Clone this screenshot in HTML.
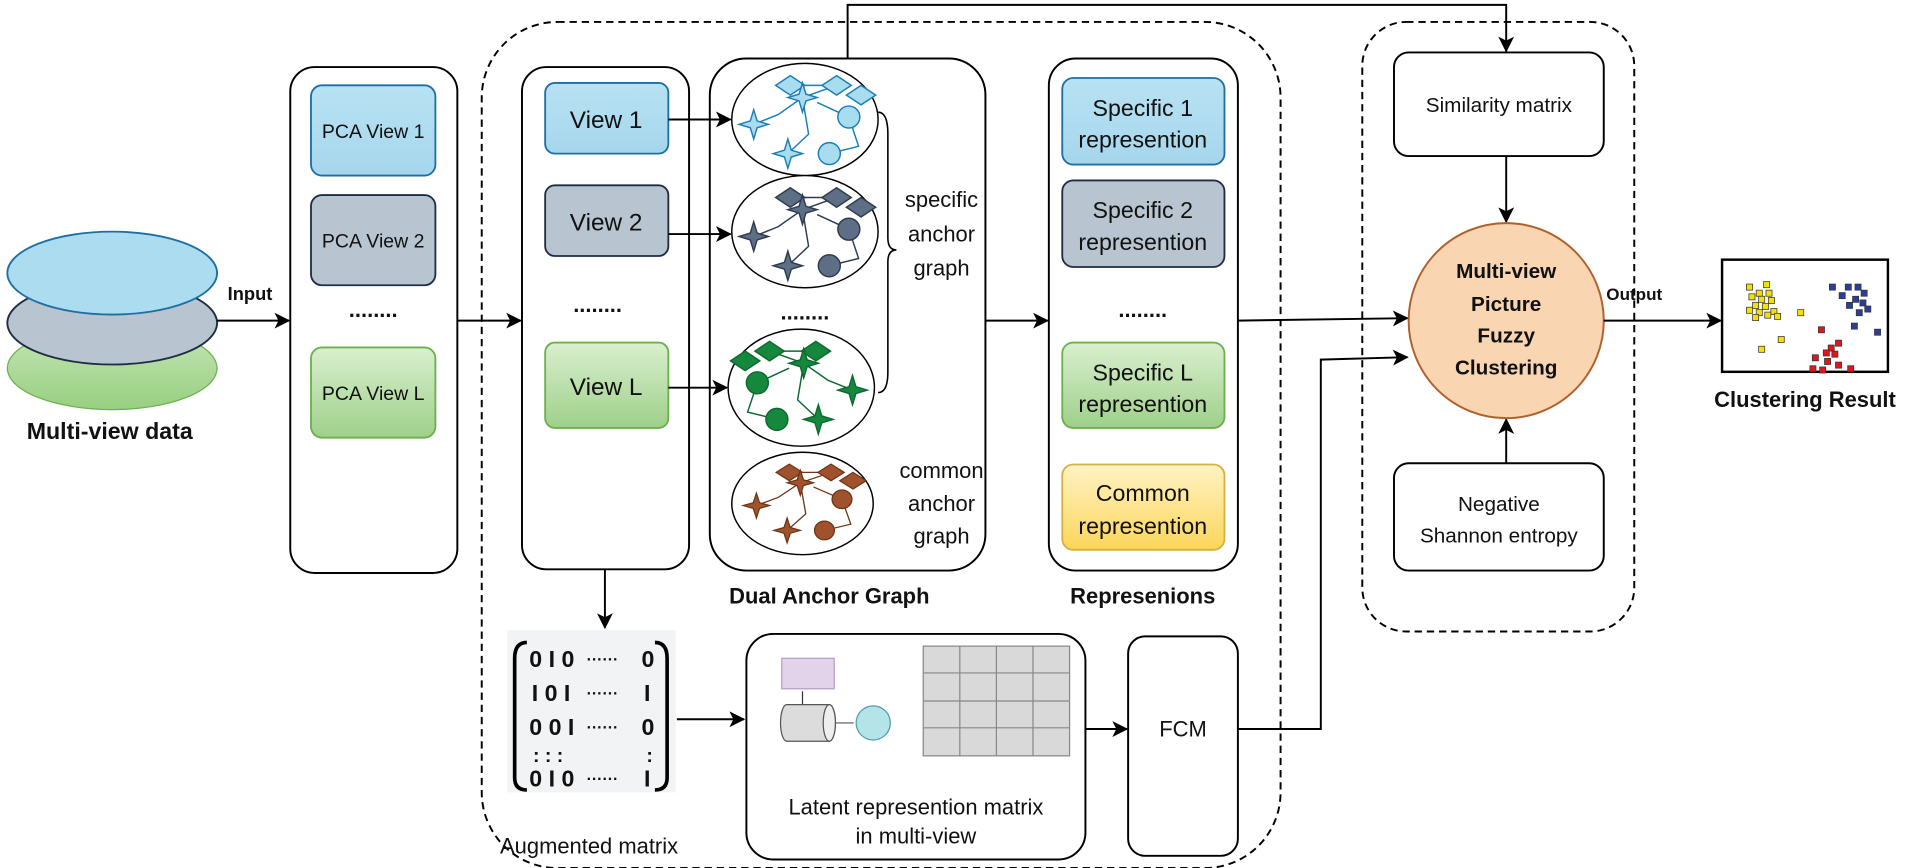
<!DOCTYPE html>
<html><head><meta charset="utf-8"><style>
html,body{margin:0;padding:0;background:#fff}
svg{display:block}
text{font-family:"Liberation Sans",Arial,sans-serif;fill:#111}
</style></head><body>
<svg width="1905" height="868" viewBox="0 0 1562 712" preserveAspectRatio="none" xmlns="http://www.w3.org/2000/svg">
<defs>
<marker id="ar" viewBox="0 0 12 12" refX="11" refY="6" markerWidth="14" markerHeight="13" orient="auto" markerUnits="userSpaceOnUse">
<path d="M0,0 L12,6 L0,12 L3,6Z" fill="#000"/></marker>
<linearGradient id="gb" x1="0" y1="0" x2="0" y2="1"><stop offset="0" stop-color="#b8e2f3"/><stop offset="1" stop-color="#a6d6ec"/></linearGradient>
<linearGradient id="gg" x1="0" y1="0" x2="0" y2="1"><stop offset="0" stop-color="#d9efcf"/><stop offset="1" stop-color="#9fd08a"/></linearGradient>
<linearGradient id="gy" x1="0" y1="0" x2="0" y2="1"><stop offset="0" stop-color="#fff3c4"/><stop offset="1" stop-color="#fbd65a"/></linearGradient>
<linearGradient id="ge" x1="0" y1="0" x2="0" y2="1"><stop offset="0" stop-color="#c6e6b8"/><stop offset="1" stop-color="#98cf80"/></linearGradient>
<path id="st" d="M0,-12 L2.8,-2.8 L12,0 L2.8,2.8 L0,12 L-2.8,2.8 L-12,0 L-2.8,-2.8Z"/>
<path id="dm" d="M0,-8 L12,0 L0,8 L-12,0Z"/>
<g id="gt">
<path fill="none" d="M-42,2 L-22,-6 L-2,-20 L26,-30 M-2,-20 L3,10 L-14,26 M10,-16 L36,-4 L44,20 L20,26 M-12,-30 L26,-30"/>
<use href="#dm" x="-12" y="-30"/><use href="#dm" x="26" y="-30"/>
<use href="#st" x="-42" y="2"/><use href="#st" x="-2" y="-20"/><use href="#st" x="-14" y="26"/>
<circle cx="36" cy="-4" r="9"/><circle cx="20" cy="26" r="9"/><use href="#dm" x="46" y="-22"/>
</g>
</defs>

<!-- multi-view data -->
<ellipse cx="92" cy="302" rx="86" ry="34" fill="url(#ge)" stroke="#6ab04c"/>
<ellipse cx="92" cy="265" rx="86" ry="34" fill="#b8c4cf" stroke="#1c2e44" stroke-width="1.5"/>
<ellipse cx="92" cy="224" rx="86" ry="34" fill="#acdcf0" stroke="#1c6fa3" stroke-width="1.5"/>
<text x="90" y="360" font-size="19" font-weight="bold" text-anchor="middle">Multi-view data</text>
<line x1="178" y1="263" x2="237" y2="263" stroke="#000" stroke-width="1.6" marker-end="url(#ar)"/>
<text x="205" y="246" font-size="15" font-weight="bold" text-anchor="middle">Input</text>

<!-- PCA box -->
<rect x="238" y="55" width="137" height="415" rx="20" fill="none" stroke="#000" stroke-width="1.6"/>
<rect x="255" y="70" width="102" height="74" rx="9" fill="url(#gb)" stroke="#1c6fa3" stroke-width="1.5"/>
<rect x="255" y="160" width="102" height="74" rx="9" fill="#b8c4cf" stroke="#1c2e44" stroke-width="1.5"/>
<rect x="255" y="285" width="102" height="74" rx="9" fill="url(#gg)" stroke="#6ab04c" stroke-width="1.5"/>
<text x="306" y="113" font-size="16" text-anchor="middle">PCA View 1</text>
<text x="306" y="203" font-size="16" text-anchor="middle">PCA View 2</text>
<text x="306" y="328" font-size="16" text-anchor="middle">PCA View L</text>
<text x="306" y="260" font-size="18" font-weight="bold" text-anchor="middle">........</text>
<line x1="375" y1="263" x2="427" y2="263" stroke="#000" stroke-width="1.6" marker-end="url(#ar)"/>

<!-- dashed big box -->
<rect x="395" y="18" width="655" height="694" rx="62" fill="none" stroke="#000" stroke-width="1.6" stroke-dasharray="6,4"/>

<!-- views box -->
<rect x="428" y="55" width="137" height="412" rx="20" fill="#fff" stroke="#000" stroke-width="1.6"/>
<rect x="447" y="68" width="101" height="58" rx="8" fill="url(#gb)" stroke="#1c6fa3" stroke-width="1.5"/>
<rect x="447" y="152" width="101" height="58" rx="8" fill="#b8c4cf" stroke="#1c2e44" stroke-width="1.5"/>
<rect x="447" y="281" width="101" height="70" rx="8" fill="url(#gg)" stroke="#6ab04c" stroke-width="1.5"/>
<text x="497" y="105" font-size="20" text-anchor="middle">View 1</text>
<text x="497" y="189" font-size="20" text-anchor="middle">View 2</text>
<text x="497" y="324" font-size="20" text-anchor="middle">View L</text>
<text x="490" y="256" font-size="18" font-weight="bold" text-anchor="middle">........</text>

<!-- dual anchor graph -->
<rect x="582" y="48" width="226" height="420" rx="30" fill="#fff" stroke="#000" stroke-width="1.6"/>
<ellipse cx="660" cy="98" rx="60" ry="46" fill="#fff" stroke="#000" stroke-width="1.2"/>
<use href="#gt" x="660" y="100" fill="#a8dcef" stroke="#1a7fb5" stroke-width="1.2"/>
<ellipse cx="660" cy="190" rx="60" ry="46" fill="#fff" stroke="#000" stroke-width="1.2"/>
<use href="#gt" x="660" y="192" fill="#5e6f85" stroke="#2d3c50" stroke-width="1.2"/>
<text x="660" y="262" font-size="18" font-weight="bold" text-anchor="middle">........</text>
<ellipse cx="657" cy="318" rx="60" ry="48" fill="#fff" stroke="#000" stroke-width="1.2"/>
<use href="#gt" transform="translate(657,318) scale(-1,1)" fill="#15883e" stroke="#0d6a2e" stroke-width="1.2"/>
<ellipse cx="658" cy="413" rx="58" ry="42" fill="#fff" stroke="#000" stroke-width="1.2"/>
<use href="#gt" transform="translate(658,413) scale(0.9,0.85)" fill="#a0522d" stroke="#6e3517" stroke-width="1.2"/>
<path d="M720,92 Q728,92 728,110 L728,195 Q728,205 735,205 Q728,205 728,215 L728,305 Q728,322 720,322" fill="none" stroke="#000" stroke-width="1.3"/>
<text x="772" y="170" font-size="18" text-anchor="middle">specific</text>
<text x="772" y="198" font-size="18" text-anchor="middle">anchor</text>
<text x="772" y="226" font-size="18" text-anchor="middle">graph</text>
<text x="772" y="392" font-size="18" text-anchor="middle">common</text>
<text x="772" y="419" font-size="18" text-anchor="middle">anchor</text>
<text x="772" y="446" font-size="18" text-anchor="middle">graph</text>
<text x="680" y="495" font-size="18" font-weight="bold" text-anchor="middle">Dual Anchor Graph</text>
<line x1="548" y1="98" x2="599" y2="98" stroke="#000" stroke-width="1.6" marker-end="url(#ar)"/>
<line x1="548" y1="192" x2="599" y2="192" stroke="#000" stroke-width="1.6" marker-end="url(#ar)"/>
<line x1="548" y1="318" x2="596" y2="318" stroke="#000" stroke-width="1.6" marker-end="url(#ar)"/>

<!-- top connector -->
<polyline points="695,48 695,4 1235,4 1235,42" fill="none" stroke="#000" stroke-width="1.6" marker-end="url(#ar)"/>
<line x1="808" y1="263" x2="859" y2="263" stroke="#000" stroke-width="1.6" marker-end="url(#ar)"/>

<!-- representations -->
<rect x="860" y="48" width="155" height="420" rx="22" fill="#fff" stroke="#000" stroke-width="1.6"/>
<rect x="871" y="64" width="133" height="71" rx="9" fill="url(#gb)" stroke="#1c6fa3" stroke-width="1.5"/>
<rect x="871" y="148" width="133" height="71" rx="9" fill="#b8c4cf" stroke="#1c2e44" stroke-width="1.5"/>
<rect x="871" y="281" width="133" height="70" rx="9" fill="url(#gg)" stroke="#6ab04c" stroke-width="1.5"/>
<rect x="871" y="381" width="133" height="70" rx="9" fill="url(#gy)" stroke="#d8b040" stroke-width="1.5"/>
<text x="937" y="95" font-size="19" text-anchor="middle">Specific 1</text>
<text x="937" y="121" font-size="19" text-anchor="middle">represention</text>
<text x="937" y="179" font-size="19" text-anchor="middle">Specific 2</text>
<text x="937" y="205" font-size="19" text-anchor="middle">represention</text>
<text x="937" y="312" font-size="19" text-anchor="middle">Specific L</text>
<text x="937" y="338" font-size="19" text-anchor="middle">represention</text>
<text x="937" y="411" font-size="19" text-anchor="middle">Common</text>
<text x="937" y="438" font-size="19" text-anchor="middle">represention</text>
<text x="937" y="260" font-size="18" font-weight="bold" text-anchor="middle">........</text>
<text x="937" y="495" font-size="18" font-weight="bold" text-anchor="middle">Represenions</text>

<!-- right dashed -->
<rect x="1117" y="18" width="223" height="500" rx="36" fill="none" stroke="#000" stroke-width="1.6" stroke-dasharray="6,4"/>
<rect x="1143" y="43" width="172" height="85" rx="12" fill="#fff" stroke="#000" stroke-width="1.6"/>
<text x="1229" y="92" font-size="17" text-anchor="middle">Similarity matrix</text>
<rect x="1143" y="380" width="172" height="88" rx="12" fill="#fff" stroke="#000" stroke-width="1.6"/>
<text x="1229" y="419" font-size="17" text-anchor="middle">Negative</text>
<text x="1229" y="445" font-size="17" text-anchor="middle">Shannon entropy</text>
<line x1="1235" y1="128" x2="1235" y2="182" stroke="#000" stroke-width="1.6" marker-end="url(#ar)"/>
<line x1="1235" y1="380" x2="1235" y2="344" stroke="#000" stroke-width="1.6" marker-end="url(#ar)"/>
<circle cx="1235" cy="263" r="80" fill="#f9d5b2" stroke="#b0602a" stroke-width="1.6"/>
<text x="1235" y="228" font-size="17" font-weight="bold" text-anchor="middle">Multi-view</text>
<text x="1235" y="255" font-size="17" font-weight="bold" text-anchor="middle">Picture</text>
<text x="1235" y="281" font-size="17" font-weight="bold" text-anchor="middle">Fuzzy</text>
<text x="1235" y="307" font-size="17" font-weight="bold" text-anchor="middle">Clustering</text>
<line x1="1015" y1="263" x2="1154" y2="261" stroke="#000" stroke-width="1.6" marker-end="url(#ar)"/>
<polyline points="1015,598 1083,598 1083,295 1154,293" fill="none" stroke="#000" stroke-width="1.6" marker-end="url(#ar)"/>
<line x1="1315" y1="263" x2="1411" y2="263" stroke="#000" stroke-width="1.6" marker-end="url(#ar)"/>
<text x="1340" y="246" font-size="14" font-weight="bold" text-anchor="middle">Output</text>

<!-- clustering result -->
<rect x="1412" y="213" width="136" height="92" fill="#fff" stroke="#000" stroke-width="2"/>
<g stroke="#333" stroke-width="0.6">
<g fill="#f5e000">
<rect x="1432" y="233" width="5" height="5"/><rect x="1446" y="231" width="5" height="5"/><rect x="1440" y="238" width="5" height="5"/><rect x="1448" y="238" width="5" height="5"/>
<rect x="1434" y="241" width="5" height="5"/><rect x="1442" y="243" width="5" height="5"/><rect x="1450" y="244" width="5" height="5"/><rect x="1437" y="248" width="5" height="5"/>
<rect x="1445" y="249" width="5" height="5"/><rect x="1432" y="252" width="5" height="5"/><rect x="1440" y="254" width="5" height="5"/><rect x="1452" y="253" width="5" height="5"/>
<rect x="1447" y="256" width="5" height="5"/><rect x="1437" y="258" width="5" height="5"/><rect x="1455" y="257" width="5" height="5"/><rect x="1474" y="254" width="5" height="5"/>
<rect x="1458" y="276" width="5" height="5"/><rect x="1442" y="284" width="5" height="5"/></g>
<g fill="#2b3f9a">
<rect x="1500" y="233" width="5" height="5"/><rect x="1513" y="233" width="5" height="5"/><rect x="1521" y="233" width="5" height="5"/><rect x="1508" y="240" width="5" height="5"/>
<rect x="1526" y="238" width="5" height="5"/><rect x="1519" y="243" width="5" height="5"/><rect x="1525" y="246" width="5" height="5"/><rect x="1514" y="248" width="5" height="5"/>
<rect x="1529" y="251" width="5" height="5"/><rect x="1522" y="254" width="5" height="5"/><rect x="1518" y="265" width="5" height="5"/><rect x="1537" y="270" width="5" height="5"/></g>
<g fill="#e0161c">
<rect x="1491" y="268" width="5" height="5"/><rect x="1499" y="283" width="5" height="5"/><rect x="1505" y="279" width="5" height="5"/><rect x="1495" y="287" width="5" height="5"/>
<rect x="1502" y="288" width="5" height="5"/><rect x="1486" y="291" width="5" height="5"/><rect x="1496" y="294" width="5" height="5"/><rect x="1505" y="297" width="5" height="5"/>
<rect x="1484" y="300" width="5" height="5"/><rect x="1492" y="301" width="5" height="5"/><rect x="1515" y="300" width="5" height="5"/></g>
</g>
<text x="1480" y="334" font-size="18" font-weight="bold" text-anchor="middle">Clustering Result</text>

<!-- bottom row -->
<line x1="496" y1="467" x2="496" y2="515" stroke="#000" stroke-width="1.6" marker-end="url(#ar)"/>
<rect x="416" y="517" width="138" height="133" fill="#f2f3f5"/>
<path d="M432,527 Q422,527 422,540 L422,638 Q422,648 432,648" fill="none" stroke="#000" stroke-width="3"/>
<path d="M537,527 Q547,527 547,540 L547,638 Q547,648 537,648" fill="none" stroke="#000" stroke-width="3"/>
<g font-size="19" font-weight="bold" font-family="Liberation Sans">
<text x="434" y="547">0 I 0</text><text x="481" y="545" font-size="13">······</text><text x="526" y="547">0</text>
<text x="436" y="575">I 0 I</text><text x="481" y="573" font-size="13">······</text><text x="528" y="575">I</text>
<text x="434" y="603">0 0 I</text><text x="481" y="601" font-size="13">······</text><text x="526" y="603">0</text>
<text x="437" y="625" font-size="16">:  :  :</text><text x="530" y="625" font-size="16">:</text>
<text x="434" y="645">0 I 0</text><text x="481" y="643" font-size="13">······</text><text x="528" y="645">I</text>
</g>
<text x="483" y="700" font-size="18" text-anchor="middle">Augmented matrix</text>
<line x1="555" y1="590" x2="610" y2="590" stroke="#000" stroke-width="1.6" marker-end="url(#ar)"/>
<rect x="612" y="520" width="278" height="185" rx="22" fill="#fff" stroke="#000" stroke-width="1.6"/>
<rect x="641" y="540" width="43" height="25" fill="#e2d3ea" stroke="#b79cc8"/>
<line x1="658" y1="578" x2="658" y2="567" stroke="#333"/>
<path d="M645,578 L680,578 A5,15 0 0 1 680,608 L645,608 A5,15 0 0 1 645,578Z" fill="#dcdcdc" stroke="#555"/>
<ellipse cx="680" cy="593" rx="5" ry="15" fill="#eee" stroke="#555"/>
<line x1="685" y1="593" x2="700" y2="593" stroke="#555"/>
<circle cx="716" cy="593" r="14" fill="#b4e3e8" stroke="#4aa0b0"/>
<rect x="757" y="530" width="120" height="90" fill="#d9d9d9" stroke="#888"/>
<g stroke="#888"><line x1="787" y1="530" x2="787" y2="620"/><line x1="817" y1="530" x2="817" y2="620"/><line x1="847" y1="530" x2="847" y2="620"/>
<line x1="757" y1="552" x2="877" y2="552"/><line x1="757" y1="575" x2="877" y2="575"/><line x1="757" y1="597" x2="877" y2="597"/></g>
<text x="751" y="668" font-size="18" text-anchor="middle">Latent represention matrix</text>
<text x="751" y="692" font-size="18" text-anchor="middle">in multi-view</text>
<line x1="890" y1="598" x2="924" y2="598" stroke="#000" stroke-width="1.6" marker-end="url(#ar)"/>
<rect x="925" y="522" width="90" height="180" rx="14" fill="#fff" stroke="#000" stroke-width="1.6"/>
<text x="970" y="604" font-size="18" text-anchor="middle">FCM</text>
</svg>
</body></html>
